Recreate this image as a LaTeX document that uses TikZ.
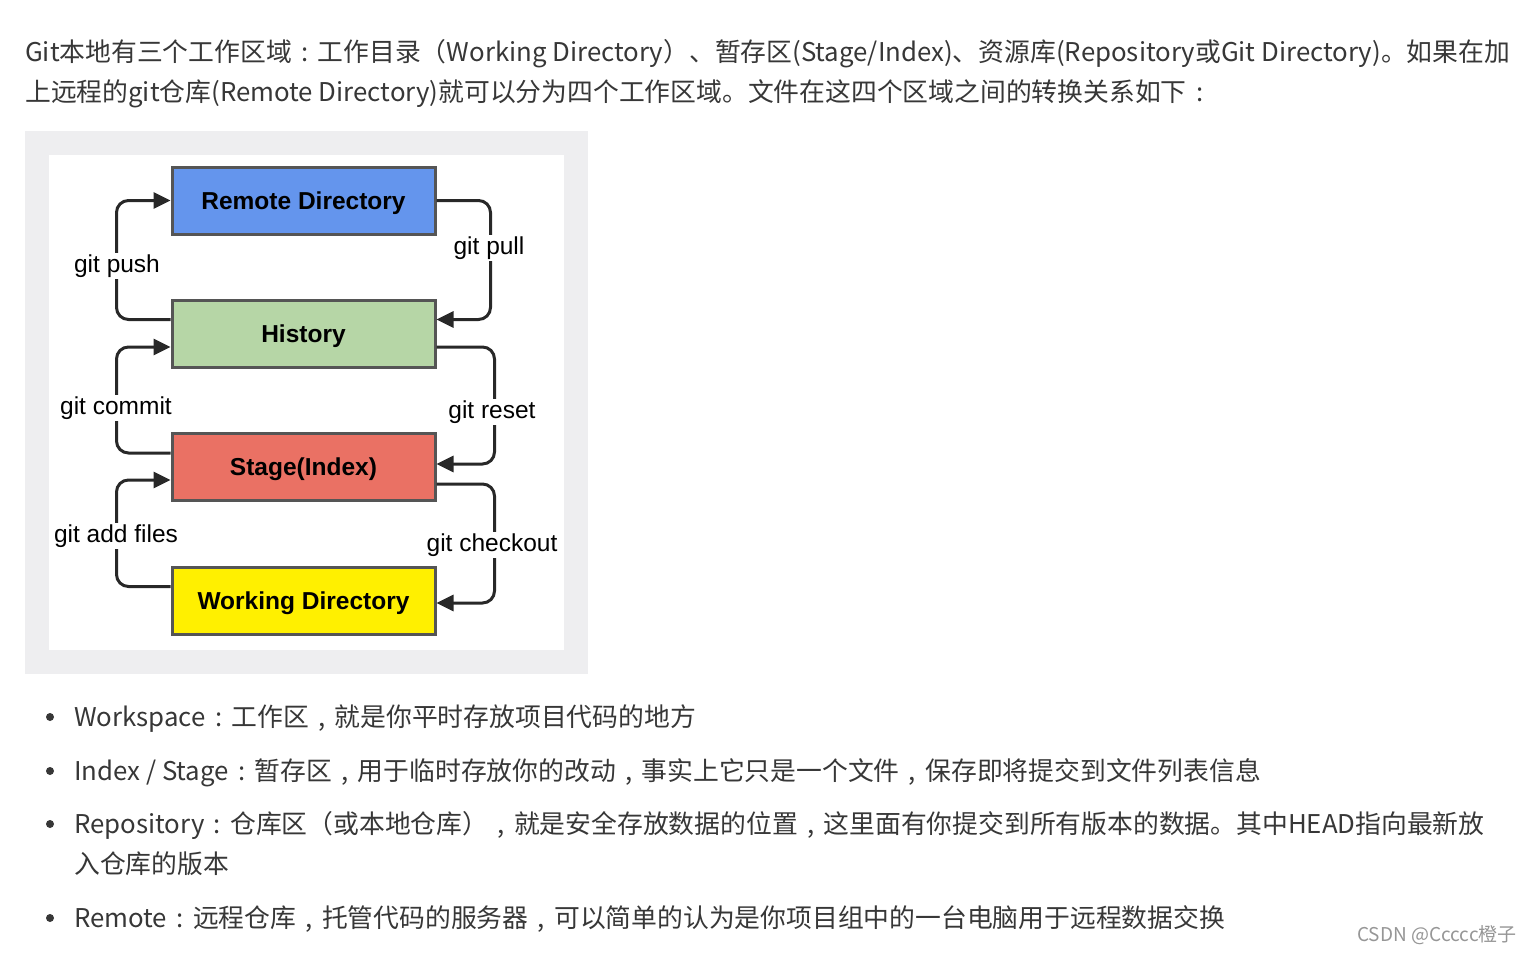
\documentclass[tikz,border=0pt]{standalone}
\usepackage{fontspec}
\setmainfont{Noto Sans CJK SC}
\newfontfamily\diagfont{Liberation Sans}
\usetikzlibrary{arrows.meta,calc}

% full-width colon and comma, set centred in a one-em cell
\newcommand\ptcolon{\makebox[1em][c]{:}}
\newcommand\ptcomma{\makebox[1em][c]{,}}

\definecolor{bodytext}{RGB}{55,55,55}
\definecolor{panelgray}{RGB}{238,238,240}
\definecolor{boxedge}{RGB}{85,85,85}
\definecolor{connline}{RGB}{40,40,40}
\definecolor{remoteblue}{RGB}{100,149,237}
\definecolor{historygreen}{RGB}{182,214,166}
\definecolor{stagered}{RGB}{234,113,100}
\definecolor{workyellow}{RGB}{255,240,0}
\definecolor{markgray}{RGB}{150,150,150}

\tikzset{
  para/.style={anchor=base west, inner sep=0pt, text=bodytext,
    font=\fontsize{25.8}{30}\selectfont},
  area/.style={draw=boxedge, line width=3pt, minimum width=263pt,
    minimum height=67pt, inner sep=0pt, text height=18pt, text depth=0.5pt,
    font=\diagfont\bfseries\fontsize{24.5}{28}\selectfont},
  conn/.style={draw=connline, line width=3pt, rounded corners=12pt,
    -{Triangle[length=17pt,width=16pt]}},
  cmd/.style={fill=white, inner sep=2pt, text=black,
    font=\diagfont\fontsize{24.5}{28}\selectfont},
  dot/.style={circle, fill=bodytext, inner sep=0pt, minimum size=8pt}
}

\begin{document}
\begin{tikzpicture}[x=1pt,y=-1pt]
\useasboundingbox (0,0) rectangle (1532,953);
\fill[white] (0,0) rectangle (1532,953);

% introduction
\node[para] (intro1) at (25,61) {Git本地有三个工作区域\ptcolon 工作目录（Working Directory）、暂存区(Stage/Index)、资源库(Repository或Git Directory)。如果在加};
\node[para] (intro2) at (25,101) {上远程的git仓库(Remote Directory)就可以分为四个工作区域。文件在这四个区域之间的转换关系如下\ptcolon};

% figure panel
\fill[panelgray] (25,131) rectangle (588,674);
\fill[white] (49,155) rectangle (564,650);

% the four areas
\node[area, fill=remoteblue]   (remote) at (303.5,200.5) {Remote Directory};
\node[area, fill=historygreen] (hist)   at (303.5,333.5) {History};
\node[area, fill=stagered]     (stage)  at (303.5,467)   {Stage(Index)};
\node[area, fill=workyellow]   (work)   at (303.5,600.5) {Working Directory};

% upward transitions (left side)
\draw[conn] ($(hist.west)+(0,-14)$) -- ++(-54,0) |- (remote.west);
\draw[conn] ($(stage.west)+(0,-14)$) -- ++(-54,0) |- ($(hist.west)+(0,13.5)$);
\draw[conn] ($(work.west)+(0,-14)$) -- ++(-54,0) |- ($(stage.west)+(0,13)$);

% downward transitions (right side)
\draw[conn] (remote.east) -- ++(54,0) |- ($(hist.east)+(0,-14)$);
\draw[conn] ($(hist.east)+(0,13.5)$) -- ++(58,0) |- ($(stage.east)+(0,-3)$);
\draw[conn] ($(stage.east)+(0,17)$) -- ++(58,0) |- ($(work.east)+(0,2.5)$);

% command labels
\node[cmd] (push)     at (117,266) {git push};
\node[cmd] (commit)   at (116,408) {git commit};
\node[cmd] (add)      at (116,536) {git add files};
\node[cmd] (pull)     at (489,248) {git pull};
\node[cmd] (reset)    at (492,412) {git reset};
\node[cmd] (checkout) at (492,545) {git checkout};

% glossary
\node[dot] (d1) at (50,717) {};
\node[dot] (d2) at (50,771) {};
\node[dot] (d3) at (50,824) {};
\node[dot] (d4) at (50,918) {};
\node[para] (item1)  at (74,726) {Workspace\ptcolon 工作区\ptcomma 就是你平时存放项目代码的地方};
\node[para] (item2)  at (74,780) {Index / Stage\ptcolon 暂存区\ptcomma 用于临时存放你的改动\ptcomma 事实上它只是一个文件\ptcomma 保存即将提交到文件列表信息};
\node[para] (item3)  at (74,833) {Repository\ptcolon 仓库区（或本地仓库）\ptcomma 就是安全存放数据的位置\ptcomma 这里面有你提交到所有版本的数据。其中HEAD指向最新放};
\node[para] (item3b) at (74,873) {入仓库的版本};
\node[para] (item4)  at (74,927) {Remote\ptcolon 远程仓库\ptcomma 托管代码的服务器\ptcomma 可以简单的认为是你项目组中的一台电脑用于远程数据交换};

% signature
\node[anchor=base east, inner sep=0pt, text=markgray,
  font=\fontsize{19}{22}\selectfont] (sig) at (1517,941) {CSDN @Ccccc橙子};
\end{tikzpicture}
\end{document}
